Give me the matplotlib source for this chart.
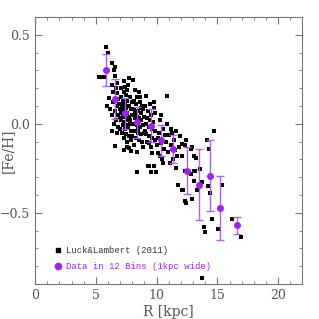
import numpy as np
import matplotlib
matplotlib.use("Agg")
import matplotlib.pyplot as plt
from matplotlib.ticker import MultipleLocator
from matplotlib.lines import Line2D

# --- Luck & Lambert (2011) stars: R [kpc], [Fe/H] ---
stars = [
    (5.25, 0.26), (5.47, 0.26), (5.71, 0.26), (5.80, 0.43), (5.96, 0.40), (6.37, 0.34),
    (6.54, 0.32), (6.50, 0.30), (6.57, 0.27), (6.70, 0.23), (6.37, 0.215), (6.05, 0.145),
    (6.13, 0.08), (5.95, 0.10), (6.29, -0.043), (6.60, -0.128), (6.32, 0.05), (6.45, 0.18),
    (6.62, 0.20), (6.40, 0.12), (6.85, 0.14), (6.75, 0.17), (6.90, 0.11), (6.70, 0.10),
    (6.55, 0.07), (6.80, 0.05), (6.65, 0.02), (6.95, 0.03), (6.50, 0.00), (6.85, -0.02),
    (6.70, -0.05),
    (7.28, 0.24), (7.72, 0.257), (7.36, 0.206), (7.30, 0.18), (7.10, 0.20), (7.45, 0.16),
    (7.55, 0.19), (7.20, 0.13), (7.05, 0.15), (7.40, 0.12), (7.60, 0.13), (7.80, 0.15),
    (7.15, 0.09), (7.30, 0.08), (7.50, 0.09), (7.70, 0.10), (7.90, 0.08), (7.05, 0.06),
    (7.25, 0.04), (7.45, 0.05), (7.60, 0.06), (7.75, 0.04), (7.95, 0.05), (7.10, 0.02),
    (7.35, 0.01), (7.55, 0.02), (7.85, 0.00), (7.20, -0.01), (7.40, -0.03), (7.65, -0.02),
    (7.90, -0.04), (7.15, -0.05), (7.50, -0.06), (7.75, -0.07), (7.30, -0.08), (7.60, -0.10),
    (7.56, -0.13), (7.70, -0.137), (7.28, -0.15), (7.86, -0.156), (7.00, -0.03), (7.95, 0.12),
    (7.62, 0.22), (7.38, 0.10), (7.82, 0.02), (7.48, -0.01), (7.18, 0.11), (7.68, 0.03),
    (7.92, -0.09), (7.02, 0.08),
    (8.05, 0.243), (8.55, 0.18), (8.20, 0.19), (8.40, 0.15), (8.10, 0.13), (8.30, 0.11),
    (8.60, 0.12), (8.80, 0.10), (8.15, 0.08), (8.45, 0.07), (8.70, 0.06), (8.90, 0.08),
    (8.05, 0.05), (8.25, 0.03), (8.55, 0.03), (8.75, 0.02), (8.95, 0.04), (8.10, 0.00),
    (8.35, -0.01), (8.60, -0.02), (8.85, -0.01), (8.20, -0.04), (8.45, -0.05), (8.70, -0.06),
    (8.95, -0.05), (8.30, -0.08), (8.55, -0.09), (8.80, -0.10), (8.38, -0.16), (8.38, -0.27),
    (8.15, -0.12), (8.65, 0.15), (8.40, 0.04), (8.00, -0.07), (8.90, -0.13), (8.50, -0.03),
    (8.75, 0.09), (8.20, 0.06),
    (9.13, 0.157), (9.75, 0.088), (9.90, 0.06), (9.05, 0.10), (9.30, 0.07), (9.55, 0.05),
    (9.20, 0.03), (9.45, 0.02), (9.70, 0.01), (9.10, 0.00), (9.35, -0.02), (9.60, -0.03),
    (9.85, -0.04), (9.15, -0.06), (9.40, -0.07), (9.65, -0.08), (9.90, -0.09), (9.25, -0.10),
    (9.37, -0.11), (9.65, -0.165), (9.50, -0.13), (9.37, -0.24), (9.50, -0.27), (9.30, -0.24),
    (9.80, -0.24), (9.92, -0.27), (9.05, -0.04), (9.80, 0.12), (9.45, 0.11),
    (10.33, 0.05), (10.82, 0.157), (10.88, -0.002), (10.66, -0.062), (10.10, -0.165),
    (10.30, -0.184), (10.20, -0.05), (10.50, -0.03), (10.40, -0.11), (10.60, -0.14),
    (10.15, -0.08), (10.75, -0.10), (10.45, -0.20), (10.25, 0.02), (10.90, -0.16),
    (10.05, -0.12), (10.55, -0.22),
    (11.00, -0.062), (11.15, -0.03), (11.27, -0.052), (11.56, -0.043), (11.92, -0.071),
    (11.20, -0.12), (11.50, -0.15), (11.70, -0.18), (11.35, -0.20), (11.80, -0.343),
    (11.10, -0.22), (11.60, -0.25), (11.45, -0.09), (11.85, -0.13),
    (12.45, -0.09), (12.10, -0.112), (12.30, -0.122), (12.80, -0.14), (12.90, -0.131),
    (13.10, -0.18), (13.25, -0.19), (12.10, -0.18), (12.30, -0.263), (12.30, -0.433),
    (12.45, -0.443), (12.10, -0.371), (12.20, -0.371), (12.90, -0.424), (12.80, -0.28),
    (13.05, -0.263), (13.20, -0.263), (13.60, -0.253), (13.05, -0.32), (13.30, -0.37),
    (13.70, -0.325),
    (14.72, -0.039), (14.12, -0.092), (14.30, -0.14), (14.20, -0.35), (14.40, -0.39),
    (15.36, -0.343), (14.60, -0.535), (13.90, -0.58), (14.00, -0.61), (15.05, -0.59),
    (16.20, -0.535), (16.92, -0.634), (13.70, -0.868),
]
star_r = [s[0] for s in stars]
star_feh = [s[1] for s in stars]

# --- binned means (12 bins, 1 kpc wide) ---
bin_r = [5.80, 6.54, 7.44, 8.41, 9.56, 10.39, 11.38, 12.53, 13.49, 14.37, 15.22, 16.60]
bin_feh = [0.300, 0.139, 0.059, 0.007, -0.011, -0.094, -0.142, -0.263, -0.342, -0.293, -0.471, -0.570]
bin_err = [0.090, 0.110, 0.087, 0.087, 0.092, 0.088, 0.080, 0.130, 0.200, 0.200, 0.180, 0.047]

purple = "#A020F0"
gray = "#777777"
serif = ["DejaVu Serif"]

fig = plt.figure(figsize=(3.19, 3.19), dpi=100)
ax = fig.add_axes([0.11, 0.11, 0.838, 0.837])

ax.scatter(star_r, star_feh, marker="s", s=5, color="black", linewidths=0, zorder=2)
ax.errorbar(bin_r, bin_feh, yerr=bin_err, fmt="o", color=purple, ms=4,
            ecolor="#B060F0", elinewidth=1, capsize=3, capthick=1, zorder=3)

ax.set_xlim(0, 22)
ax.set_ylim(-0.9, 0.6)
ax.xaxis.set_major_locator(MultipleLocator(5))
ax.xaxis.set_minor_locator(MultipleLocator(1))
ax.yaxis.set_major_locator(MultipleLocator(0.5))
ax.yaxis.set_minor_locator(MultipleLocator(0.1))
ax.tick_params(which="both", direction="in", top=True, right=True, colors=gray,
               labelcolor="#555555", labelsize=9)
ax.tick_params(which="major", length=5)
ax.tick_params(which="minor", length=2.5)
for lab in ax.get_xticklabels() + ax.get_yticklabels():
    lab.set_family(serif)
for sp in ax.spines.values():
    sp.set_color(gray)

ax.set_xlabel("R [kpc]", color="#555555", fontsize=10, family=serif, labelpad=2)
ax.set_ylabel("[Fe/H]", color="#555555", fontsize=10, family=serif)
ax.yaxis.set_label_coords(-0.075, 0.5)

handles = [
    Line2D([], [], marker="s", ls="none", color="black", ms=2.8),
    Line2D([], [], marker="o", ls="none", color=purple, ms=4.5),
]
labels = ["Luck&Lambert (2011)", "Data in 12 Bins (1kpc wide)"]
ax.legend(handles, labels, loc="lower left", bbox_to_anchor=(0.055, 0.035),
          frameon=False, handletextpad=0.4, labelcolor=["#333333", purple],
          labelspacing=0.75, prop={"family": "Liberation Mono", "size": 6.4},
          handlelength=1.0, borderaxespad=0.0)

fig.savefig("out.png", dpi=100)
